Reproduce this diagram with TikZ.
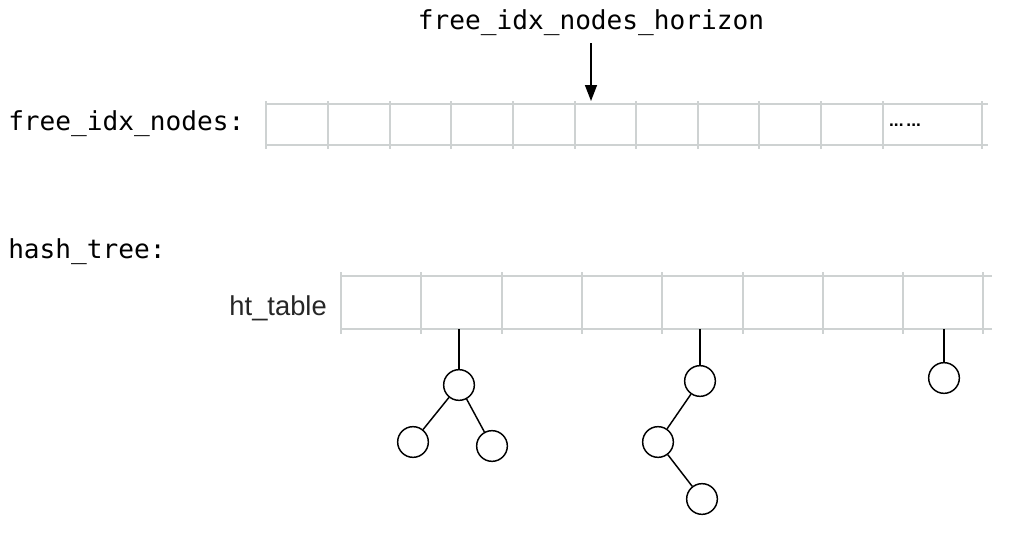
\documentclass[tikz,border=0pt]{standalone}
\usepackage{fontspec}
\setmonofont{DejaVu Sans Mono}
\setsansfont{Liberation Sans}
\usepackage{tikz}
\usetikzlibrary{arrows.meta, positioning}
\definecolor{gridgray}{RGB}{206,210,210}

\tikzset{
  cellline/.style={draw=gridgray, line width=0.9pt},
  treenode/.style={circle, draw=black, line width=1.1pt, minimum size=23pt, inner sep=0pt},
  treeedge/.style={draw=black, line width=1.1pt},
  monolabel/.style={font=\ttfamily\fontsize{19.6}{23}\selectfont, inner sep=0pt},
}

\begin{document}
\begin{tikzpicture}[x=0.75pt, y=-0.75pt]
  \useasboundingbox (0,0) rectangle (1025,546);

  % free_idx_nodes array
  \node[monolabel, anchor=base west] (freelabel) at (8,130) {free\_idx\_nodes:};
  \draw[cellline] (265,104) -- (988,104);
  \draw[cellline] (265,145) -- (988,145);
  \foreach \x in {266,328,390,451,513,575,636,698,759,821,883,982}
    \draw[cellline] (\x,101) -- (\x,149);
  \node[font=\sffamily\bfseries\fontsize{13}{14}\selectfont, inner sep=0pt] (freedots) at (905,125) {...\,...};

  % horizon pointer
  \node[monolabel, anchor=base] (horizon) at (591,29) {free\_idx\_nodes\_horizon};
  \coordinate (horizontip) at (591,101);
  \draw[-{Triangle[length=12pt,width=9pt]}, line width=1.1pt, shorten <=6pt] (horizon) -- (horizontip);

  % hash_tree
  \node[monolabel, anchor=base west] (treelabel) at (8,258) {hash\_tree:};
  \node[font=\sffamily\fontsize{20.5}{24}\selectfont, text=black!85, inner sep=0pt, anchor=base east] (htlabel) at (327,315) {ht\_table};
  \draw[cellline] (341,276) -- (992,276);
  \draw[cellline] (341,329) -- (992,329);
  \foreach \x in {341,421,502,582,662,743,823,903,983}
    \draw[cellline] (\x,272) -- (\x,334);

  % tree under cell 2
  \coordinate (slot2) at (459,329);
  \node[treenode] (t1root) at (459,385) {};
  \node[treenode] (t1left) at (413,442) {};
  \node[treenode] (t1right) at (492,446) {};
  \draw[treeedge] (slot2) -- (t1root);
  \draw[treeedge] (t1root) -- (t1left);
  \draw[treeedge] (t1root) -- (t1right);

  % tree under cell 5
  \coordinate (slot5) at (700,329);
  \node[treenode] (t2root) at (700,381) {};
  \node[treenode] (t2left) at (658,442) {};
  \node[treenode] (t2leftright) at (702,499) {};
  \draw[treeedge] (slot5) -- (t2root);
  \draw[treeedge] (t2root) -- (t2left);
  \draw[treeedge] (t2left) -- (t2leftright);

  % tree under cell 8
  \coordinate (slot8) at (944,329);
  \node[treenode] (t3root) at (944,378) {};
  \draw[treeedge] (slot8) -- (t3root);

\end{tikzpicture}
\end{document}
